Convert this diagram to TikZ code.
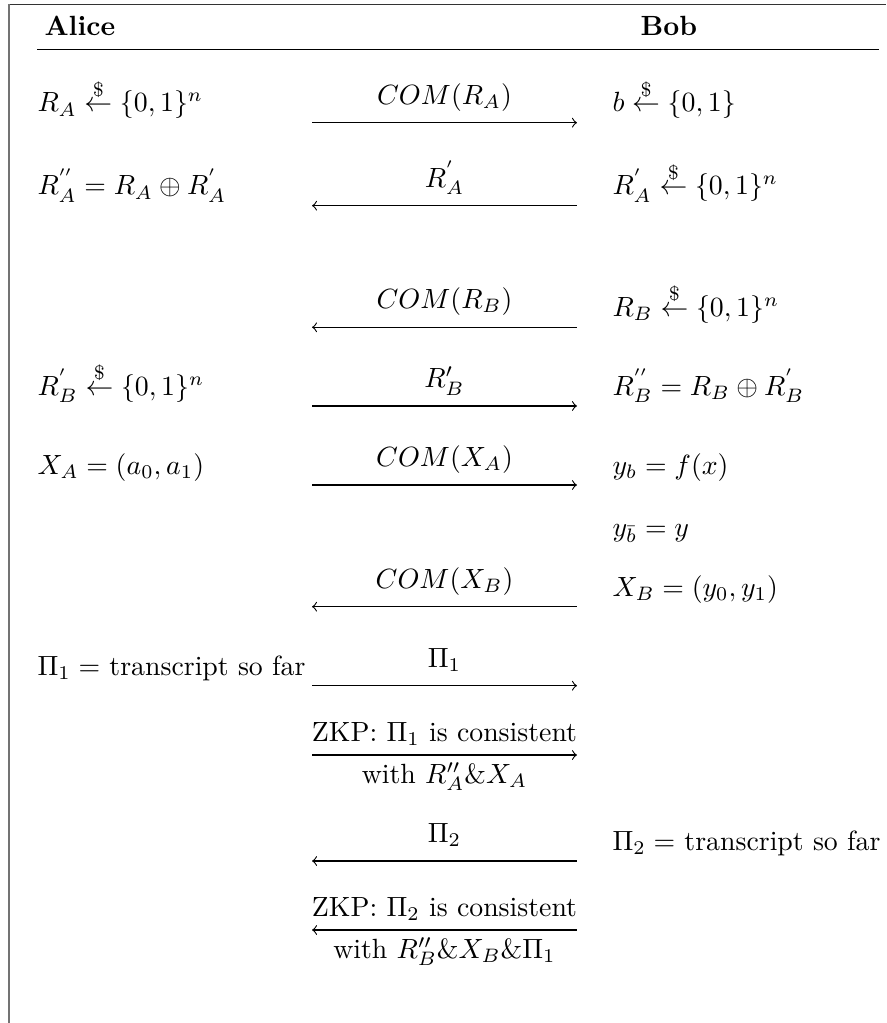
\documentclass[tikz,border=0pt]{standalone}
\usetikzlibrary{positioning}
\begin{document}
\begin{tikzpicture}[x=0.3597pt,y=-0.3597pt,
    party/.style={anchor=base west,inner sep=0pt},
    msglabel/.style={anchor=base,inner sep=0pt},
    fwd/.style={->},
    bwd/.style={<-}]
                  \useasboundingbox (0,0) rectangle (886,1023);

                  % Rahmen
                  \draw[black!80,line width=0.6pt] (8.5,4.5) -- (886,4.5);
                  \draw[black!55,line width=0.7pt] (9,4.5) -- (9,1023);

                  % Kopfzeile
                  \node[party,font=\bfseries] (alice) at (44,35.5) {Alice};
                  \node[party,font=\bfseries] (bob) at (640,35.5) {Bob};
                  \draw[line width=0.5pt] (37,49.3) -- (879,49.3);

                  % Nachrichten
                  \foreach \y/\dir/\lab [count=\i] in {122.7/fwd/{$COM(R_A)$}, 205.7/bwd/{$R^{'}_A$},
                          327.3/bwd/{$COM(R_B)$}, 406/fwd/{$R'_B$}, 485/fwd/{$COM(X_A)$},
                          606.7/bwd/{$COM(X_B)$}, 685.7/fwd/{$\Pi_1$}, 861/bwd/{$\Pi_2$}} {
                          \coordinate (l\i) at (312,\y);
                          \coordinate (r\i) at (577,\y);
                          \draw[\dir] (l\i) -- (r\i);
                          \node[msglabel] (m\i) at (444.5,\y-18.5) {\lab};
                      }

                  % Zero-Knowledge-Beweise
                  \foreach \y/\dir/\top/\bot [count=\i] in {755/fwd/{ZKP: $\Pi_1$ is consistent}/{with $R''_A\&X_A$},
                          930/bwd/{ZKP: $\Pi_2$ is consistent}/{with $R''_B\&X_B\&\Pi_1$}} {
                          \coordinate (zl\i) at (312,\y);
                          \coordinate (zr\i) at (577,\y);
                          \draw[\dir] (zl\i) -- (zr\i);
                          \node[msglabel] (zt\i) at (444.5,\y-13.3) {\top};
                          \node[msglabel] (zb\i) at (444.5,\y+28.3) {\bot};
                      }

                  % Alice
                  \node[party] (a1) at (37,112) {$R_A \stackrel{\$}{\leftarrow} \{0,1\}^n$};
                  \node[party] (a2) at (37,195) {$R^{''}_A = R_A \oplus R^{'}_A$};
                  \node[party] (a4) at (37,395.3) {$R^{'}_B \stackrel{\$}{\leftarrow} \{0,1\}^n$};
                  \node[party] (a5) at (37,474.3) {$X_A = (a_0, a_1)$};
                  \node[party] (a7) at (37,675) {$\Pi_1 =$ transcript so far};

                  % Bob
                  \node[party] (b1) at (612,112) {$b \stackrel{\$}{\leftarrow} \{0,1\}$};
                  \node[party] (b2) at (612,195) {$R^{'}_A \stackrel{\$}{\leftarrow} \{0,1\}^n$};
                  \node[party] (b3) at (612,316.6) {$R_B \stackrel{\$}{\leftarrow} \{0,1\}^n$};
                  \node[party] (b4) at (612,395.3) {$R^{''}_B = R_B \oplus R^{'}_B$};
                  \node[party] (b5) at (612,474.3) {$y_b = f(x)$};
                  \node[party] (b6) at (612,536) {$y_{\bar{b}} = y$};
                  \node[party] (b7) at (612,596) {$X_B = (y_0, y_1)$};
                  \node[party] (b9) at (612,850.3) {$\Pi_2 =$ transcript so far};
              \end{tikzpicture}
\end{document}
